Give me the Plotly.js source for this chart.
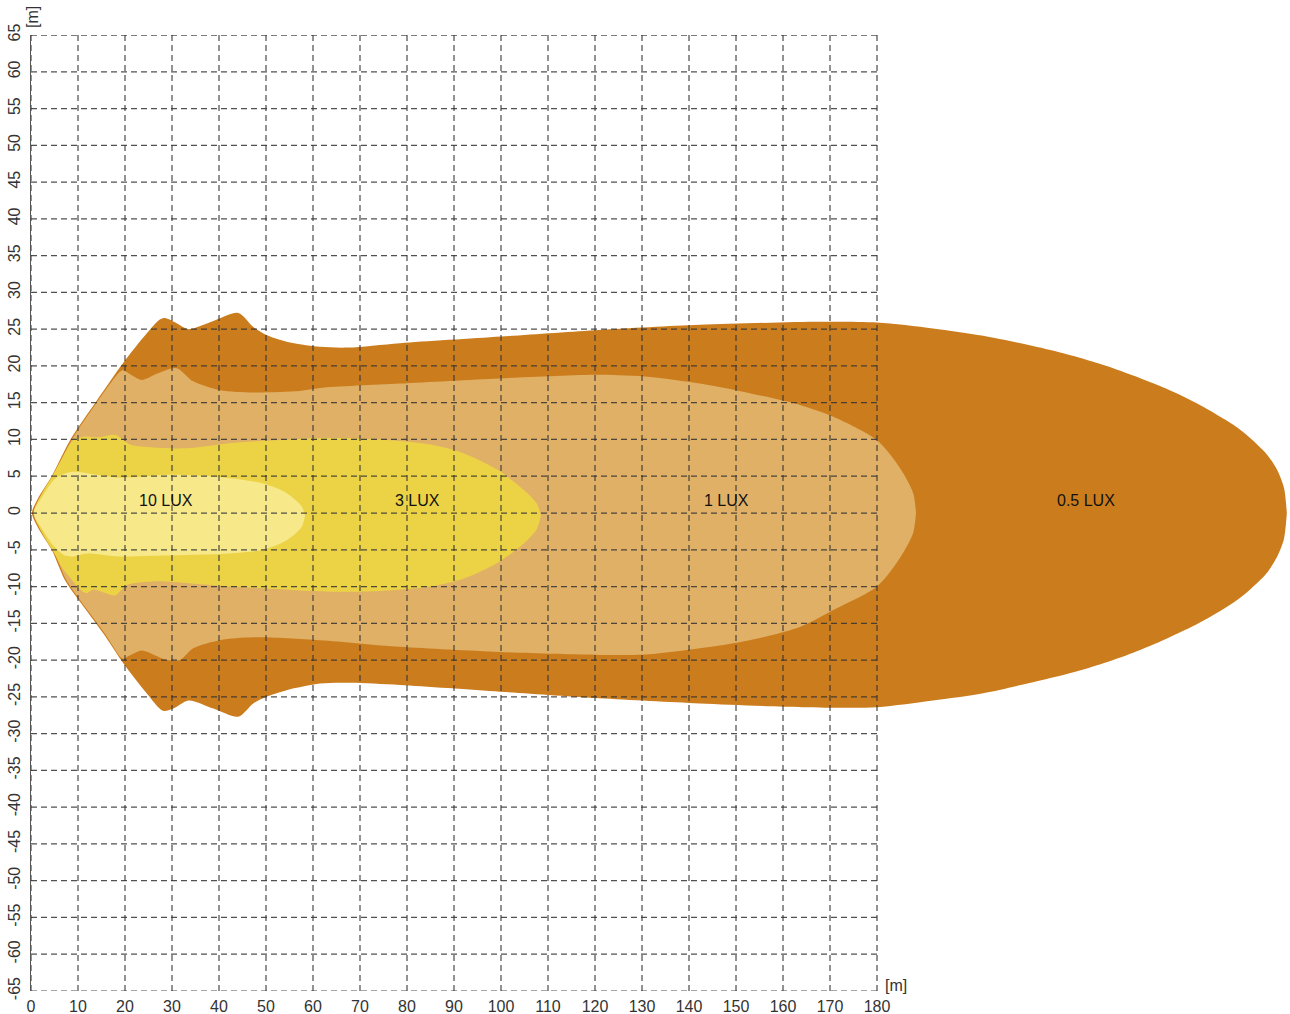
<!DOCTYPE html>
<html>
<head>
<meta charset="utf-8">
<script src="https://cdn.plot.ly/plotly-3.0.1.min.js"></script>
<style>html,body{margin:0;padding:0;background:#fff;}#chart{width:1290px;height:1014px;}</style>
</head>
<body>
<div id="chart"></div>
<script>
// ---- tick values ----
const xTicks = [0,10,20,30,40,50,60,70,80,90,100,110,120,130,140,150,160,170,180];
const yTicks = [-65,-60,-55,-50,-45,-40,-35,-30,-25,-20,-15,-10,-5,0,5,10,15,20,25,30,35,40,45,50,55,60,65];

// ---- isolux contours (metres) ----
// 0.5 LUX
const darkUpX = [0.2, 1.5, 4.4, 8.4, 14, 19.6, 24.6, 27.4, 28.5, 31, 33.5, 38.8, 44.1, 47.3, 50.1, 54.4, 61.5, 67.5, 78.5, 100, 121, 142.3, 168, 180, 191.9, 202.6, 213.2, 220.4, 227.4, 234.5, 241.6, 248.7, 255.8, 259.4, 262.9, 265.1, 266.6, 267.2];
const darkUpY = [0, 2, 5, 10, 15.3, 20.4, 24.4, 26.3, 26.5, 25.8, 25.0, 26.1, 27.2, 25.3, 24.2, 23.3, 22.6, 22.5, 23.1, 24.0, 24.9, 25.6, 26.0, 25.9, 25.1, 24.1, 22.7, 21.6, 20.3, 18.7, 16.9, 14.7, 12.0, 10.2, 8.0, 5.9, 3.4, 0];
const darkLoX = [0.2, 1.5, 4.4, 7.2, 10.1, 15.4, 19.6, 24.6, 28.1, 30.3, 33.5, 38.8, 44.1, 47.3, 50.1, 54.4, 61.5, 67.9, 78.5, 99.8, 121, 142.3, 164.2, 180, 191.9, 202.6, 213.2, 220.4, 227.4, 234.5, 241.6, 248.7, 255.8, 259.4, 262.9, 265.1, 266.6, 267.2];
const darkLoY = [0, -2, -5, -9.1, -11.8, -16.4, -20.4, -24.5, -26.9, -26.6, -25.5, -26.6, -27.7, -25.9, -25.0, -24.1, -23.2, -23.1, -23.4, -24.3, -25.2, -25.9, -26.4, -26.4, -25.5, -24.5, -23.0, -21.9, -20.6, -19.0, -17.1, -14.9, -12.2, -10.4, -8.2, -6.0, -3.5, 0];
// 1 LUX
const tanUpX = [0.5, 1.8, 4.7, 8.7, 14.3, 18.9, 19.6, 21.5, 23.6, 27, 31, 34.5, 40.2, 47.3, 57.2, 61.5, 78.5, 99.8, 121, 131.7, 142.3, 152.9, 163.6, 170.7, 180, 184.9, 187.7, 188.3];
const tanUpY = [0, 2, 5, 10, 15.3, 19.2, 19.4, 18.7, 18.1, 19.0, 19.7, 17.9, 16.7, 16.4, 16.6, 17.0, 17.6, 18.3, 18.8, 18.5, 17.6, 16.3, 14.7, 13.1, 9.9, 6.1, 2.7, 0];
const tanLoX = [0.5, 1.8, 4.7, 7.5, 10.4, 15.7, 18.9, 19.6, 21.5, 23.6, 28.9, 31.7, 34.5, 40.2, 47.3, 61.5, 78.5, 99.8, 121, 131.7, 142.3, 152.9, 163.6, 170.7, 180, 184.9, 187.7, 188.3];
const tanLoY = [0, -2, -5, -9.1, -11.8, -16.4, -19.5, -19.8, -19.2, -18.7, -20.0, -20.0, -18.4, -17.3, -16.9, -17.3, -18.2, -18.9, -19.3, -19.2, -18.4, -17.3, -15.5, -13.2, -10.0, -6.1, -2.7, 0];
// 3 LUX
const yelUpX = [0.6, 2.2, 4.7, 6.4, 9, 11.5, 14.5, 18, 21.1, 26, 33.1, 42.3, 52, 63.6, 74.3, 85, 92.1, 99.2, 104.9, 107.6, 108.5];
const yelUpY = [0, 2.5, 5.2, 7.2, 9.9, 10.4, 10.3, 10.6, 9.3, 8.9, 8.8, 9.5, 9.9, 10.2, 10.0, 9.3, 8.1, 5.9, 3.1, 1.3, -0.4];
const yelLoX = [0.6, 2.2, 4.7, 6.7, 9, 10.1, 11.8, 13.3, 17.9, 20.4, 26, 40.2, 63.6, 74.3, 85, 92.1, 99.2, 104.9, 107.6, 108.5];
const yelLoY = [0, -2.5, -5.2, -7.5, -9.3, -10.2, -10.9, -10.4, -11.2, -9.8, -9.3, -9.9, -10.7, -10.6, -10.0, -8.9, -6.8, -4.1, -2.2, -0.4];
// 10 LUX
const paleUpX = [0.6, 2.5, 5, 7, 9, 13, 18.9, 29.6, 40.2, 49.4, 54.4, 57.6, 58.3];
const paleUpY = [0, 2.3, 4.6, 5.3, 5.6, 5.3, 4.8, 5.2, 4.9, 4.0, 2.7, 0.9, -0.4];
const paleLoX = [0.6, 2.5, 5, 7, 9, 11.8, 18.9, 26, 33.1, 42.3, 49.4, 54.4, 57.6, 58.3];
const paleLoY = [0, -2.3, -4.6, -5.7, -5.9, -5.5, -5.9, -5.8, -5.7, -5.5, -5.0, -3.7, -1.9, -0.4];

// ---- labels ----
const labelText = ["10 LUX", "3 LUX", "1 LUX", "0.5 LUX"];
const labelX = [28.7, 82.3, 147.9, 224.5];
const labelY = [1.7, 1.7, 1.7, 1.7];

const colors = ["#CB7D1E", "#E0B066", "#ECD345", "#F7E98A"];

function closed(ux, uy, lx, ly) {
  const x = ux.slice().concat(lx.slice().reverse());
  const y = uy.slice().concat(ly.slice().reverse());
  return {x, y};
}
const levels = [
  closed(darkUpX, darkUpY, darkLoX, darkLoY),
  closed(tanUpX, tanUpY, tanLoX, tanLoY),
  closed(yelUpX, yelUpY, yelLoX, yelLoY),
  closed(paleUpX, paleUpY, paleLoX, paleLoY)
];

const traces = levels.map((p, i) => ({
  type: 'scatter', mode: 'lines', x: p.x, y: p.y,
  fill: 'toself', fillcolor: colors[i],
  line: {width: 0, color: colors[i], shape: 'spline', smoothing: 0.8},
  hoverinfo: 'skip', showlegend: false
}));

// dashed grid above the fills
const xMin = xTicks[0], xMax = xTicks[xTicks.length - 1];
const yMin = yTicks[0], yMax = yTicks[yTicks.length - 1];
const gx = [], gy = [];
xTicks.forEach(v => { gx.push(v, v, null); gy.push(yMin, yMax, null); });
yTicks.forEach(v => { gx.push(xMin, xMax, null); gy.push(v, v, null); });
traces.push({
  type: 'scatter', mode: 'lines', x: gx, y: gy,
  line: {color: 'rgba(50,50,50,0.85)', width: 1.25, dash: '6px,4px'},
  hoverinfo: 'skip', showlegend: false, cliponaxis: false
});

const fontFam = 'Liberation Sans, Arial, Helvetica, sans-serif';
const annotations = labelText.map((t, i) => ({
  x: labelX[i], y: labelY[i], xref: 'x', yref: 'y', text: t, showarrow: false,
  font: {family: fontFam, size: 16, color: '#111'}, xanchor: 'center', yanchor: 'middle'
}));
annotations.push({x: 2 / 1259, y: (990.8 - 17) / 955.8, xref: 'paper', yref: 'paper', text: '[m]', showarrow: false, textangle: -90,
  font: {family: fontFam, size: 16, color: '#333'}, xanchor: 'center', yanchor: 'middle'});
annotations.push({x: 184, y: -64.3, xref: 'x', yref: 'y', text: '[m]', showarrow: false,
  font: {family: fontFam, size: 16, color: '#333'}, xanchor: 'center', yanchor: 'middle'});

const layout = {
  width: 1290, height: 1014, autosize: false,
  margin: {l: 31, r: 0, t: 35, b: 23, pad: 0},
  paper_bgcolor: '#ffffff', plot_bgcolor: '#ffffff',
  showlegend: false,
  xaxis: {range: [0, 267.87], tickvals: xTicks, ticktext: xTicks.map(String), showgrid: false, zeroline: false,
    showline: false, ticks: '', ticklabelstandoff: 4, tickfont: {family: fontFam, size: 16, color: '#333'}, fixedrange: true},
  yaxis: {range: [-65, 65], tickvals: yTicks, ticktext: yTicks.map(String), showgrid: false, zeroline: false,
    showline: true, linecolor: '#555', linewidth: 1.5, ticks: '', tickangle: -90, ticklabelstandoff: 3,
    tickfont: {family: fontFam, size: 16, color: '#333'}, fixedrange: true},
  annotations: annotations
};

Plotly.newPlot('chart', traces, layout, {displayModeBar: false, staticPlot: true});
</script>
</body>
</html>
